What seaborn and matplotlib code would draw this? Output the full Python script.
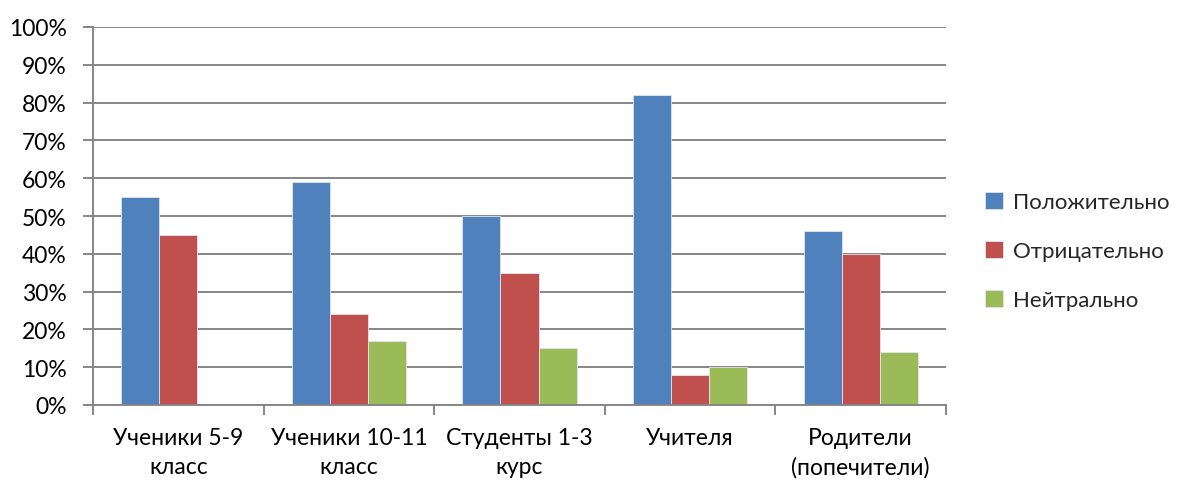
import matplotlib
matplotlib.use("Agg")
import matplotlib.pyplot as plt
import seaborn as sns
import pandas as pd
import numpy as np
from matplotlib.ticker import FixedLocator, PercentFormatter

categories = ["Ученики 5-9\nкласс", "Ученики 10-11\nкласс", "Студенты 1-3\nкурс", "Учителя", "Родители\n(попечители)"]
series = ["Положительно", "Отрицательно", "Нейтрально"]
positive = [55, 59, 50, 82, 46]
negative = [45, 24, 35, 8, 40]
neutral = [0, 17, 15, 10, 14]
colors = ["#4F81BD", "#C0504D", "#9BBB59"]
y_ticks = [0, 10, 20, 30, 40, 50, 60, 70, 80, 90, 100]

rows = []
for s, vals in zip(series, [positive, negative, neutral]):
    for c, v in zip(categories, vals):
        rows.append({"cat": c, "series": s, "value": v})
df = pd.DataFrame(rows)

sns.set_style("white")
plt.rcParams['font.family'] = ['Lato', 'DejaVu Sans']
FS = 16.5

fig = plt.figure(figsize=(11.8, 4.85), dpi=100)
ax = fig.add_axes([93/1180, 1 - 406/485, (946 - 93)/1180, (406 - 28)/485])

sns.barplot(data=df, x="cat", y="value", hue="series", hue_order=series,
            order=categories, palette=colors, width=0.67, ax=ax,
            saturation=1, edgecolor="#dfe6f0", linewidth=0.6, legend=True)

ax.set_ylim(0, 100)
ax.set_xlim(-0.5, len(categories) - 0.5)
ax.set_yticks(y_ticks)
ax.yaxis.set_major_formatter(PercentFormatter(decimals=0))
ax.yaxis.grid(True, color="#868686", linewidth=1.4)
ax.set_axisbelow(True)
ax.set_xlabel("")
ax.set_ylabel("")

for sp in ["top", "right"]:
    ax.spines[sp].set_visible(False)
for sp in ["left", "bottom"]:
    ax.spines[sp].set_color("#868686")
    ax.spines[sp].set_linewidth(1.4)

ax.tick_params(axis="y", which="major", length=7, width=1.4, color="#868686",
               labelsize=FS, pad=12, left=True, direction="out")
ax.tick_params(axis="x", which="major", length=0, labelsize=FS, pad=16)
ax.xaxis.set_minor_locator(FixedLocator(np.arange(-0.5, len(categories), 1.0)))
ax.tick_params(axis="x", which="minor", length=7, width=1.4, color="#868686",
               bottom=True, direction="out")
for lbl in ax.get_xticklabels():
    lbl.set_linespacing(1.45)
for lbl in ax.get_xticklabels() + ax.get_yticklabels():
    lbl.set_color("#000000")

leg = ax.legend(loc="center left", bbox_to_anchor=(1.035, 0.407), frameon=False,
                fontsize=16, handlelength=0.8, handleheight=0.8,
                handletextpad=0.45, labelspacing=1.3, borderaxespad=0)

fig.savefig("out.png", dpi=100)
